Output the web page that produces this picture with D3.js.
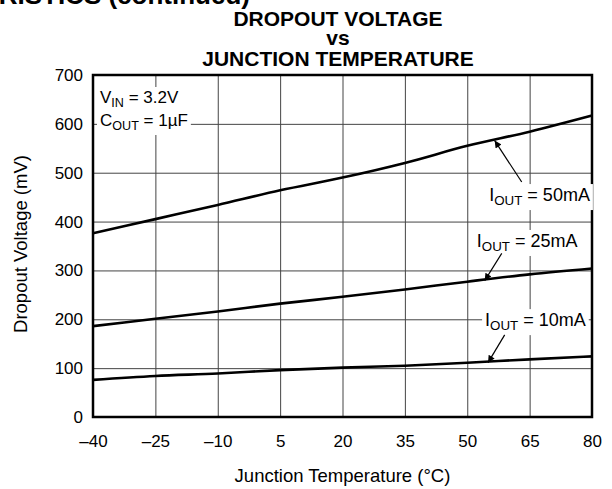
<!DOCTYPE html>
<html>
<head>
<meta charset="utf-8">
<script src="https://cdn.jsdelivr.net/npm/d3@7"></script>
<style>
  body { margin: 0; background: #fff; }
  svg { display: block; font-family: "Liberation Sans", Arial, sans-serif; }
</style>
</head>
<body>
<svg id="chart"></svg>
<script>
/* chart values */
const temps = [-40, -25, -10, 5, 20, 35, 50, 65, 80];
const iout50 = [376, 405, 434, 464, 490, 520, 555, 584, 617];
const iout25 = [186, 201, 216, 232, 246, 261, 277, 292, 304];
const iout10 = [76, 84, 89, 96, 101, 105, 111, 118, 124];
const xTicks = [-40, -25, -10, 5, 20, 35, 50, 65, 80];
const yTicks = [0, 100, 200, 300, 400, 500, 600, 700];
const seriesNames = ['50mA', '25mA', '10mA'];

/* margins and size */
let margin = { top: 75, right: 20, bottom: 72, left: 93 };
let W = 612, H = 489;
let width = W - margin.left - margin.right;
let height = H - margin.top - margin.bottom;

let svg = d3.select('#chart').attr('width', W).attr('height', H);

let x = d3.scaleLinear().domain([-40, 80]).range([0, width]);
let y = d3.scaleLinear().domain([0, 700]).range([height, 0]);

/* cut-off page heading at the very top */
svg.append('text')
    .attr('x', 250).attr('y', 4)
    .attr('text-anchor', 'end')
    .attr('font-size', 26).attr('font-weight', 'bold')
    .text('TYPICAL CHARACTERISTICS (continued)');

/* title */
let tx = 338;
let title = svg.append('g')
    .attr('font-weight', 'bold').attr('font-size', 21)
    .attr('text-anchor', 'middle');
title.append('text').attr('x', tx).attr('y', 26).text('DROPOUT VOLTAGE');
title.append('text').attr('x', tx).attr('y', 45).text('vs');
title.append('text').attr('x', tx).attr('y', 66).text('JUNCTION TEMPERATURE');

let chart = svg.append('g').attr('transform', `translate(${margin.left}, ${margin.top})`);

/* grid + tick labels via axes */
let fmt = d => d < 0 ? '\u2013' + Math.abs(d) : String(d);
let yAxis = d3.axisLeft(y).tickValues(yTicks).tickSize(-width).tickPadding(10).tickFormat(fmt);
let xAxis = d3.axisBottom(x).tickValues(xTicks).tickSize(-height).tickPadding(18).tickFormat(fmt);

let gy = chart.append('g').call(yAxis);
let gx = chart.append('g').attr('transform', `translate(0, ${height})`).call(xAxis);
[gx, gy].forEach(g => {
    g.select('.domain').remove();
    g.selectAll('line').attr('stroke', '#444').attr('stroke-width', 1);
    g.selectAll('text').attr('font-size', 17).attr('fill', '#000')
        .attr('font-family', '"Liberation Sans", Arial, sans-serif');
});

/* axis titles */
svg.append('text')
    .attr('x', margin.left + width / 2).attr('y', 482)
    .attr('text-anchor', 'middle').attr('font-size', 18.5)
    .text('Junction Temperature (\u00B0C)');
svg.append('text')
    .attr('transform', `translate(27, ${margin.top + height / 2 - 2}) rotate(-90)`)
    .attr('text-anchor', 'middle').attr('font-size', 18.5)
    .text('Dropout Voltage (mV)');

/* helper: label with subscript, white box behind it */
function subLabel(g, px, py, main, sub, rest, anchor, fs) {
    let t = g.append('text').attr('x', px).attr('y', py)
        .attr('font-size', fs).attr('text-anchor', anchor);
    t.append('tspan').text(main);
    t.append('tspan').attr('font-size', fs * 0.74).attr('dy', 4).text(sub);
    t.append('tspan').attr('dy', -4).text(rest);
    let bb = t.node().getBBox();
    g.insert('rect', 'text')
        .attr('x', bb.x - 3).attr('y', bb.y - 1)
        .attr('width', bb.width + 6).attr('height', bb.height + 3)
        .attr('fill', '#fff');
    return t;
}

/* condition label top-left */
let cond = chart.append('g');
subLabel(cond, 7, 28, 'V', 'IN', ' = 3.2V', 'start', 17);
subLabel(cond, 7, 51, 'C', 'OUT', ' = 1\u00B5F', 'start', 17);

/* curves */
let series = [iout50, iout25, iout10];
let line = d3.line()
    .x((d, i) => x(temps[i]))
    .y(d => y(d))
    .curve(d3.curveMonotoneX);
chart.selectAll('path.curve')
    .data(series)
    .join('path')
    .attr('class', 'curve')
    .attr('d', line)
    .attr('fill', 'none')
    .attr('stroke', '#000')
    .attr('stroke-width', 2.6);

/* border */
chart.append('rect')
    .attr('width', width).attr('height', height)
    .attr('fill', 'none').attr('stroke', '#000').attr('stroke-width', 2.5);

/* annotations: label position and arrow start/tip in data units */
const labelAt = [[79.5, 442], [76.5, 348], [78.5, 186]];
const arrowFrom = [[63.1, 481], [58.3, 335], [59, 168]];
const arrowTipT = [56.6, 54.2, 55];

svg.append('defs').append('marker')
    .attr('id', 'ah').attr('viewBox', '0 0 10 10')
    .attr('refX', 10).attr('refY', 5)
    .attr('markerWidth', 11).attr('markerHeight', 7)
    .attr('markerUnits', 'userSpaceOnUse')
    .attr('orient', 'auto')
    .append('path').attr('d', 'M0,0 L10,5 L0,10 Z').attr('fill', '#000');

let interp = (vals, t) => {
    let i = d3.bisectRight(temps, t) - 1;
    i = Math.max(0, Math.min(i, temps.length - 2));
    let f = (t - temps[i]) / (temps[i + 1] - temps[i]);
    return vals[i] + f * (vals[i + 1] - vals[i]);
};

let ann = chart.append('g');
seriesNames.forEach((name, k) => {
    let g = ann.append('g');
    subLabel(g, x(labelAt[k][0]), y(labelAt[k][1]), 'I', 'OUT', ' = ' + name, 'end', 18);
    let tipT = arrowTipT[k];
    ann.append('line')
        .attr('x1', x(arrowFrom[k][0])).attr('y1', y(arrowFrom[k][1]))
        .attr('x2', x(tipT)).attr('y2', y(interp(series[k], tipT)) + 1)
        .attr('stroke', '#000').attr('stroke-width', 1.2)
        .attr('marker-end', 'url(#ah)');
});
</script>
</body>
</html>
